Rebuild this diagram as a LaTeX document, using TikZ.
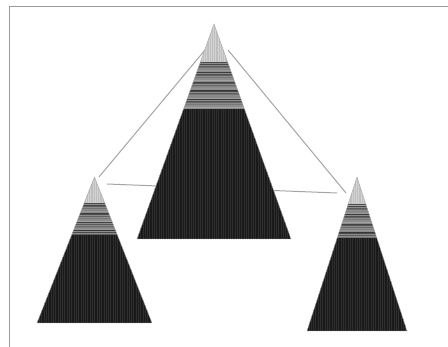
\documentclass[tikz,border=0pt]{standalone}
\definecolor{tipgray}{RGB}{210,210,210}
\definecolor{bandgray}{RGB}{140,140,140}
\definecolor{darkfill}{RGB}{26,26,26}
\definecolor{linkgray}{RGB}{165,165,165}
\tikzset{
  frameline/.style={draw=gray!80, line width=0.9pt},
  link/.style={draw=linkgray, line width=1pt},
  rimline/.style={draw=gray!70, line width=0.4pt}
}
\newcommand\drawpyr[5]{%
  \pgfmathsetmacro\pyh{#4-#3}%
  \pgfmathsetmacro\pya{#3+0.178*\pyh}%
  \pgfmathsetmacro\pyb{#3+0.396*\pyh}%
  \pgfmathtruncatemacro\pyn{(\pyb-\pya)/1.6}%
  \begin{scope}
    \clip (#2,#3) -- ({#2-#5},#4) -- ({#2+#5},#4) -- cycle;
    \fill[tipgray] ({#2-#5},#3) rectangle ({#2+#5},\pya);
    \foreach \i in {-20,...,20}
      \draw[gray!50, line width=0.5pt] ({#2+\i*1.8},#3) -- ({#2+\i*1.8},\pya);
    \fill[bandgray] ({#2-#5},\pya) rectangle ({#2+#5},\pyb);
    \foreach \i in {0,...,\pyn}{
      \pgfmathtruncatemacro\gl{35+mod(\i*37,45)}
      \draw[black!\gl, line width=0.9pt] ({#2-#5},{\pya+\i*1.6+0.6}) -- ({#2+#5},{\pya+\i*1.6+0.6});
    }
    \draw[black!70, line width=1pt] ({#2-#5},\pya+0.5) -- ({#2+#5},\pya+0.5);
    \fill[darkfill] ({#2-#5},\pyb) rectangle ({#2+#5},#4);
    \foreach \i in {-40,...,40}
      \draw[black!82, line width=0.25pt] ({#2+\i*2.3},\pyb) -- ({#2+\i*2.3},#4);
  \end{scope}
  \draw[rimline] (#2,#3) -- ({#2-#5},#4) -- ({#2+#5},#4) -- cycle;
  \coordinate (#1) at (#2,#3);
}
\begin{document}
\begin{tikzpicture}[x=1pt,y=-1pt]
  \useasboundingbox (0,0) rectangle (448,347);
  \fill[white] (0,0) rectangle (448,347);
  \draw[frameline] (9,347) -- (9,6) -- (448,6);
  % connector end points
  \coordinate (bigL) at (205,50);
  \coordinate (bigR) at (228,50);
  \coordinate (leftTop) at (99,177);
  \coordinate (leftSide) at (107,184);
  \coordinate (rightTop) at (346,193);
  \coordinate (rightSide) at (337,193);
  \draw[link] (bigL) -- (leftTop);
  \draw[link] (bigR) -- (rightTop);
  \draw[link] (leftSide) -- (rightSide);
  % pyramids
  \drawpyr{big}{214}{24}{239}{77}
  \drawpyr{left}{94.5}{177}{323}{57.5}
  \drawpyr{right}{357}{177}{331}{50}
\end{tikzpicture}
\end{document}
